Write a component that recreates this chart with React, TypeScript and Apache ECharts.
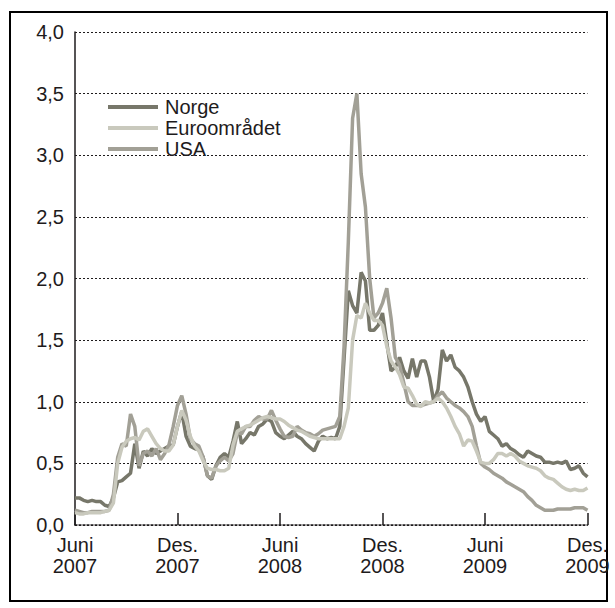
import React, { useEffect, useRef } from "react";
import * as echarts from "echarts";

const seriesNames = ["Norge", "Euroområdet", "USA"];
const tickLabels = ["Juni\n2007", "Des.\n2007", "Juni\n2008", "Des.\n2008", "Juni\n2009", "Des.\n2009"];
// one value per quarter month, from June 2007 to December 2009
const monthStep = 0.25;

const norge = [
  0.22, 0.22, 0.20, 0.19, 0.20, 0.19, 0.19, 0.16, 0.15, 0.22,
  0.35, 0.36, 0.39, 0.42, 0.66, 0.46, 0.60, 0.56, 0.62, 0.58,
  0.60, 0.62, 0.64, 0.65, 0.80, 0.92, 0.72, 0.64, 0.62, 0.61,
  0.55, 0.40, 0.37, 0.48, 0.55, 0.58, 0.55, 0.68, 0.84, 0.66,
  0.70, 0.75, 0.73, 0.80, 0.82, 0.86, 0.84, 0.75, 0.72, 0.70,
  0.73, 0.76, 0.72, 0.70, 0.66, 0.63, 0.60, 0.68, 0.72, 0.70,
  0.71, 0.70, 0.80, 1.35, 1.90, 1.78, 1.72, 2.05, 1.98, 1.58,
  1.58, 1.62, 1.72, 1.48, 1.25, 1.28, 1.36, 1.25, 1.19, 1.35,
  1.20, 1.33, 1.33, 1.20, 1.00, 1.10, 1.42, 1.33, 1.38, 1.28,
  1.25, 1.20, 1.12, 1.00, 0.90, 0.84, 0.88, 0.76, 0.73, 0.70,
  0.64, 0.66, 0.62, 0.60, 0.57, 0.55, 0.60, 0.58, 0.56, 0.55,
  0.51, 0.51, 0.50, 0.51, 0.50, 0.52, 0.45, 0.46, 0.48, 0.42,
  0.39,
];

const euro = [
  0.10, 0.09, 0.09, 0.10, 0.10, 0.10, 0.10, 0.11, 0.12, 0.18,
  0.50, 0.63, 0.68, 0.70, 0.71, 0.69, 0.76, 0.78, 0.72, 0.66,
  0.62, 0.60, 0.60, 0.65, 0.80, 0.93, 0.85, 0.72, 0.64, 0.60,
  0.52, 0.46, 0.45, 0.45, 0.44, 0.44, 0.46, 0.65, 0.76, 0.78,
  0.80, 0.81, 0.83, 0.85, 0.87, 0.88, 0.87, 0.86, 0.86, 0.84,
  0.81, 0.79, 0.77, 0.76, 0.74, 0.72, 0.71, 0.70, 0.70, 0.70,
  0.70, 0.70, 0.70, 0.80, 0.95, 1.50, 1.70, 1.68, 1.80, 1.72,
  1.66, 1.66, 1.62, 1.45, 1.33, 1.28, 1.22, 1.12, 1.11, 1.05,
  0.98, 0.96, 1.00, 0.99, 1.00, 1.03, 1.00, 0.95, 0.88, 0.80,
  0.74, 0.64, 0.69, 0.68, 0.60, 0.51, 0.50, 0.50, 0.53, 0.58,
  0.58, 0.56, 0.58, 0.56, 0.52, 0.50, 0.48, 0.47, 0.46, 0.44,
  0.40, 0.38, 0.37, 0.34, 0.31, 0.29, 0.28, 0.29, 0.28, 0.28,
  0.30,
];

const usa = [
  0.12, 0.11, 0.10, 0.10, 0.11, 0.11, 0.11, 0.11, 0.12, 0.25,
  0.55, 0.66, 0.64, 0.90, 0.80, 0.48, 0.58, 0.60, 0.56, 0.62,
  0.53, 0.58, 0.65, 0.80, 0.97, 1.05, 0.90, 0.70, 0.66, 0.64,
  0.55, 0.40, 0.38, 0.48, 0.52, 0.55, 0.52, 0.58, 0.75, 0.74,
  0.80, 0.80, 0.85, 0.88, 0.86, 0.86, 0.93, 0.85, 0.78, 0.72,
  0.71, 0.72, 0.80, 0.77, 0.75, 0.74, 0.72, 0.74, 0.77, 0.78,
  0.79, 0.80, 0.88, 1.45, 2.30, 3.30, 3.50, 2.85, 2.58, 2.00,
  1.68, 1.72, 1.80, 1.92, 1.68, 1.36, 1.30, 1.15, 1.00, 0.97,
  0.97, 0.97, 0.98, 0.99, 1.00, 1.05, 1.08, 1.03, 1.00, 0.97,
  0.95, 0.92, 0.88, 0.80, 0.64, 0.50, 0.47, 0.45, 0.42, 0.40,
  0.38, 0.35, 0.33, 0.31, 0.29, 0.27, 0.23, 0.20, 0.16, 0.14,
  0.12, 0.12, 0.12, 0.13, 0.13, 0.13, 0.13, 0.14, 0.14, 0.14,
  0.12,
];

const colors = { norge: "#77776a", euro: "#c9c9bd", usa: "#a2a096" };
const textColor = "#1e1b1c";
const fontFamily = "'Liberation Sans', Arial, sans-serif";

export default function App() {
  const ref = useRef<HTMLDivElement>(null);
  useEffect(() => {
    document.body.style.margin = "0";
    const chart = echarts.init(ref.current!, null, { renderer: "svg" });
    const toPairs = (vals: number[]) => vals.map((v, i) => [i * monthStep, v]);
    chart.setOption({
      animation: false,
      textStyle: { fontFamily },
      grid: { left: 75, right: 27.5, top: 32, bottom: 83 },
      legend: {
        data: seriesNames,
        orient: "vertical",
        left: 103,
        top: 92,
        icon: "rect",
        itemWidth: 50,
        itemHeight: 4,
        itemGap: 1,
        selectedMode: false,
        textStyle: { fontSize: 20, lineHeight: 20, color: textColor, fontFamily, padding: [0, 0, 0, 2] },
      },
      xAxis: {
        type: "value",
        min: 0,
        max: 30,
        interval: 6,
        axisLabel: {
          formatter: (v: number) => tickLabels[Math.round(v / 6)],
          fontSize: 20,
          lineHeight: 21,
          color: textColor,
          fontFamily,
          margin: 9,
          showMinLabel: true,
          showMaxLabel: true,
        },
        axisTick: { inside: true, length: 12, lineStyle: { color: textColor, width: 1.5 } },
        axisLine: { lineStyle: { color: textColor, type: [2, 2], width: 1.5 } },
        splitLine: { show: false },
      },
      yAxis: {
        type: "value",
        min: 0,
        max: 4,
        interval: 0.5,
        axisLine: { show: true, lineStyle: { color: textColor, width: 1.5 } },
        axisTick: { show: false },
        axisLabel: {
          formatter: (v: number) => v.toFixed(1).replace(".", ","),
          fontSize: 20,
          color: textColor,
          fontFamily,
          margin: 11,
        },
        splitLine: { lineStyle: { type: [2, 2], color: textColor, width: 1 } },
      },
      series: [
        {
          name: "Norge",
          type: "line",
          data: toPairs(norge),
          showSymbol: false,
          color: colors.norge,
          lineStyle: { width: 3.5, color: colors.norge },
          z: 2,
        },
        {
          name: "USA",
          type: "line",
          data: toPairs(usa),
          showSymbol: false,
          color: colors.usa,
          lineStyle: { width: 3.5, color: colors.usa },
          z: 3,
        },
        {
          name: "Euroområdet",
          type: "line",
          data: toPairs(euro),
          showSymbol: false,
          color: colors.euro,
          lineStyle: { width: 3.5, color: colors.euro },
          z: 4,
        },
      ],
      graphic: [
        {
          type: "rect",
          silent: true,
          shape: { x: 10, y: 12, width: 597, height: 589 },
          style: { fill: "none", stroke: "#000", lineWidth: 2 },
        },
      ],
    });
    return () => chart.dispose();
  }, []);
  return <div ref={ref} style={{ width: 615, height: 608 }} />;
}
